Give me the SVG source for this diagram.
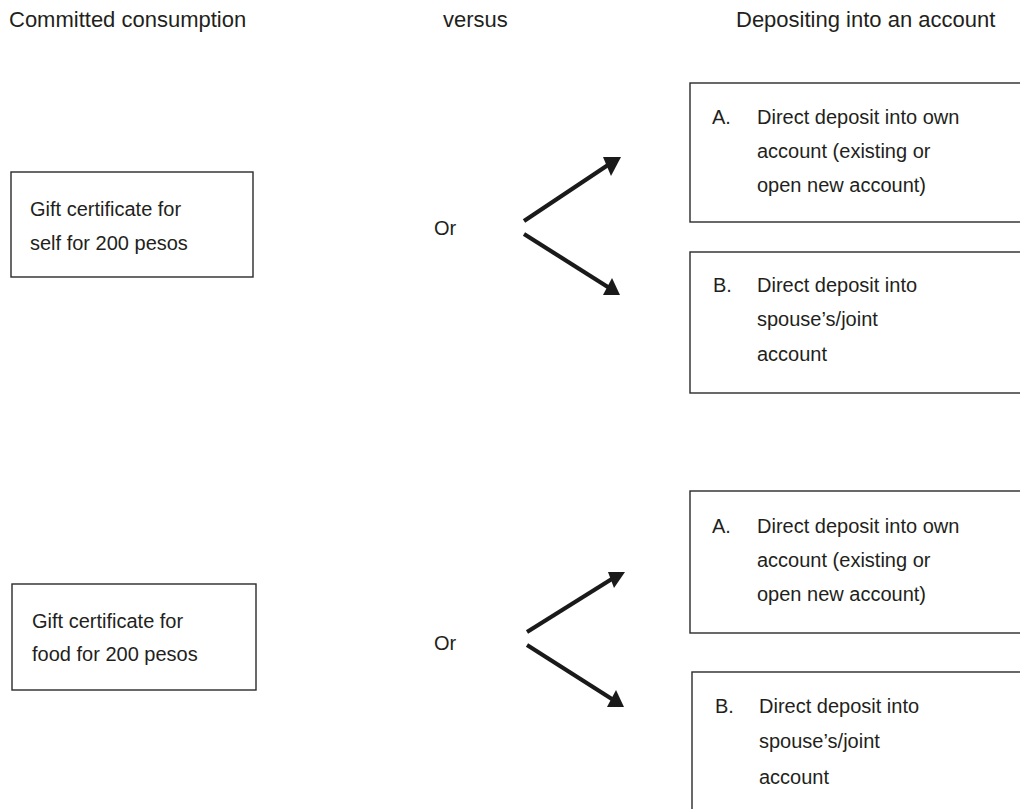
<svg xmlns="http://www.w3.org/2000/svg" width="1020" height="809" viewBox="0 0 1020 809">
<style>
.t{font-family:"Liberation Sans",Arial,sans-serif;fill:#231f20;}
.h{font-size:22px;}
.b{font-size:20px;}
.box{fill:#fff;stroke:#2a2a2a;stroke-width:1.4;}
.ln{stroke:#1a1a1a;stroke-width:4.2;fill:none;}
.hd{fill:#1a1a1a;}
</style>
<rect width="1020" height="809" fill="#fff"/>
<g id="headers">
<text class="t h" x="9" y="27">Committed consumption</text>
<text class="t h" x="443" y="27">versus</text>
<text class="t h" x="736" y="27">Depositing into an account</text>
</g>
<g id="self">
<rect class="box" x="11" y="172" width="242" height="105"/>
<text class="t b" x="30" y="216">Gift certificate for</text>
<text class="t b" x="30" y="250">self for 200 pesos</text>
</g>
<g id="or1"><text class="t b" x="434" y="235">Or</text></g>
<g id="a1">
<rect class="box" x="690" y="83" width="340" height="139"/>
<text class="t b" x="712" y="124">A.</text>
<text class="t b" x="757" y="124">Direct deposit into own</text>
<text class="t b" x="757" y="158">account (existing or</text>
<text class="t b" x="757" y="192">open new account)</text>
</g>
<g id="b1">
<rect class="box" x="690" y="252" width="340" height="141"/>
<text class="t b" x="713" y="292">B.</text>
<text class="t b" x="757" y="292">Direct deposit into</text>
<text class="t b" x="757" y="326">spouse’s/joint</text>
<text class="t b" x="757" y="361">account</text>
</g>
<g id="food">
<rect class="box" x="12" y="584" width="244" height="106"/>
<text class="t b" x="32" y="628">Gift certificate for</text>
<text class="t b" x="32" y="661">food for 200 pesos</text>
</g>
<g id="or2"><text class="t b" x="434" y="650">Or</text></g>
<g id="a2">
<rect class="box" x="690" y="491" width="340" height="142"/>
<text class="t b" x="712" y="533">A.</text>
<text class="t b" x="757" y="533">Direct deposit into own</text>
<text class="t b" x="757" y="567">account (existing or</text>
<text class="t b" x="757" y="601">open new account)</text>
</g>
<g id="b2">
<rect class="box" x="692" y="672" width="340" height="150"/>
<text class="t b" x="715" y="713">B.</text>
<text class="t b" x="759" y="713">Direct deposit into</text>
<text class="t b" x="759" y="748">spouse’s/joint</text>
<text class="t b" x="759" y="784">account</text>
</g>
<g id="connectors">
<line class="ln" x1="524" y1="221" x2="611" y2="163"/>
<polygon class="hd" points="603,157 621,157 611,176"/>
<line class="ln" x1="524" y1="234" x2="611" y2="289"/>
<polygon class="hd" points="603,295 620,295 612,278"/>
<line class="ln" x1="527" y1="632" x2="615" y2="577"/>
<polygon class="hd" points="608,572 625,572 614,588"/>
<line class="ln" x1="527" y1="645" x2="615" y2="701"/>
<polygon class="hd" points="607,707 624,707 616,690"/>
</g>
</svg>
